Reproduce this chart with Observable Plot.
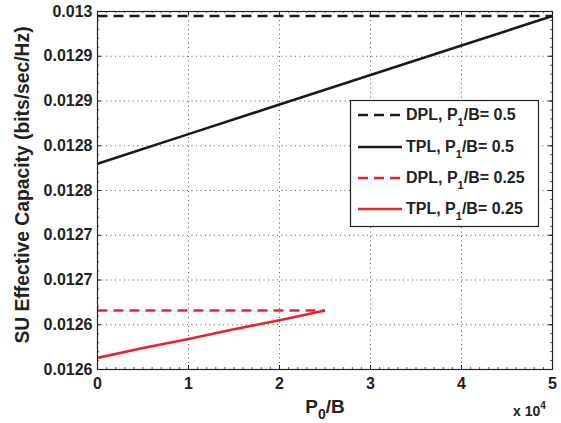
<!DOCTYPE html>
<html>
<head>
<meta charset="utf-8">
<script src="https://cdn.jsdelivr.net/npm/d3@7"></script>
<script src="https://cdn.jsdelivr.net/npm/@observablehq/plot@0.6"></script>
<style>
  html, body { margin: 0; padding: 0; background: #fff; }
  #chart { width: 561px; height: 423px; }
  svg { font-family: "Liberation Sans", Arial, sans-serif; font-weight: bold; }
</style>
</head>
<body>
<div id="chart"></div>
<script>
// ---- data ----
const xTicks = [0, 10000, 20000, 30000, 40000, 50000];
const xTickLabels = ["0", "1", "2", "3", "4", "5"];
const yTicks = [0.0126, 0.01265, 0.0127, 0.01275, 0.0128, 0.01285, 0.0129, 0.01295, 0.0130];
const yTickLabels = ["0.0126", "0.0126", "0.0127", "0.0127", "0.0128", "0.0128", "0.0129", "0.0129", "0.013"];

const dplHighX = [0, 50000];
const dplHighY = [0.012995, 0.012995];
const tplHighX = [0, 10000, 20000, 30000, 40000, 50000];
const tplHighY = [0.01283, 0.012863, 0.012896, 0.012929, 0.012962, 0.012995];
const dplLowX = [0, 25000];
const dplLowY = [0.012666, 0.012666];
const tplLowX = [0, 5000, 10000, 15000, 20000, 25000];
const tplLowY = [0.012613, 0.012624, 0.012634, 0.012645, 0.012655, 0.012666];

const seriesNames = ["DPL, P1/B= 0.5", "TPL, P1/B= 0.5", "DPL, P1/B= 0.25", "TPL, P1/B= 0.25"];
const legendParts = [["DPL, P", "1", "/B= 0.5"], ["TPL, P", "1", "/B= 0.5"], ["DPL, P", "1", "/B= 0.25"], ["TPL, P", "1", "/B= 0.25"]];

const black = "#1a1a1a", red = "#e8262a";
const styles = [
  {stroke: black, dash: "10,6"},
  {stroke: black, dash: null},
  {stroke: red, dash: "10,6"},
  {stroke: red, dash: null}
];
const toRows = (xs, ys) => xs.map((x, i) => ({x, y: ys[i]}));
const series = [toRows(dplHighX, dplHighY), toRows(tplHighX, tplHighY), toRows(dplLowX, dplLowY), toRows(tplLowX, tplLowY)];

const xMinor = d3.range(0, 50001, 1000);
const yMinor = d3.range(0, 41).map(i => 0.0126 + i * 0.00001);

const W = 561, H = 423, mL = 97, mR = 9, mT = 11, mB = 54;
const fw = W - mL - mR, fh = H - mT - mB;

const plot = Plot.plot({
  width: W, height: H,
  marginLeft: mL, marginRight: mR, marginTop: mT, marginBottom: mB,
  style: {fontFamily: '"Liberation Sans", Arial, sans-serif', fontSize: "16px", fontWeight: "bold", color: "#222", background: "white"},
  x: {domain: [0, 50000]},
  y: {domain: [0.0126, 0.0130]},
  marks: [
    Plot.gridX(xTicks, {stroke: "#333", strokeOpacity: 0.8, strokeDasharray: "1,3.5"}),
    Plot.gridY(yTicks, {stroke: "#333", strokeOpacity: 0.8, strokeDasharray: "1,3.5"}),
    // minor ticks
    Plot.tickX(xMinor, {x: d => d, insetTop: fh - 2, stroke: "#333", strokeWidth: 0.8}),
    Plot.tickX(xMinor, {x: d => d, insetBottom: fh - 2, stroke: "#333", strokeWidth: 0.8}),
    Plot.tickY(yMinor, {y: d => d, insetRight: fw - 2, stroke: "#333", strokeWidth: 0.8}),
    Plot.tickY(yMinor, {y: d => d, insetLeft: fw - 2, stroke: "#333", strokeWidth: 0.8}),
    // major ticks
    Plot.tickX(xTicks, {x: d => d, insetTop: fh - 4, stroke: "#222"}),
    Plot.tickX(xTicks, {x: d => d, insetBottom: fh - 4, stroke: "#222"}),
    Plot.tickY(yTicks, {y: d => d, insetRight: fw - 4, stroke: "#222"}),
    Plot.tickY(yTicks, {y: d => d, insetLeft: fw - 4, stroke: "#222"}),
    Plot.axisX(xTicks, {tickSize: 0, tickPadding: 8, tickFormat: (d, i) => xTickLabels[i], label: null, fontSize: 16, fontWeight: "bold"}),
    Plot.axisY(yTicks, {tickSize: 0, tickPadding: 5, tickFormat: (d, i) => yTickLabels[i], label: null, fontSize: 16, fontWeight: "bold"}),
    ...series.map((rows, i) => Plot.line(rows, {x: "x", y: "y", stroke: styles[i].stroke, strokeWidth: 2.6, strokeDasharray: styles[i].dash, strokeLinecap: "butt"})),
    Plot.frame({stroke: "#222", strokeWidth: 1.2})
  ]
});
document.getElementById("chart").appendChild(plot);

const svg = d3.select(plot);
// y label
svg.append("text")
  .attr("transform", `translate(29,185) rotate(-90)`)
  .attr("text-anchor", "middle")
  .attr("font-size", 19.3).attr("font-weight", "bold").attr("fill", "#222")
  .text("SU Effective Capacity (bits/sec/Hz)");
// x label
const xl = svg.append("text")
  .attr("x", 325).attr("y", 413)
  .attr("text-anchor", "middle")
  .attr("font-size", 19).attr("font-weight", "bold").attr("fill", "#222");
xl.append("tspan").text("P");
xl.append("tspan").attr("dy", 6).attr("font-size", 14).text("0");
xl.append("tspan").attr("dy", -6).text("/B");
// exponent
const ex = svg.append("text")
  .attr("x", 513).attr("y", 416)
  .attr("text-anchor", "start")
  .attr("font-size", 14).attr("font-weight", "bold").attr("fill", "#222");
ex.append("tspan").text("x 10");
ex.append("tspan").attr("dy", -7).attr("font-size", 10).text("4");

// legend
const lg = svg.append("g");
lg.append("rect").attr("x", 350.5).attr("y", 100.5).attr("width", 188).attr("height", 126)
  .attr("fill", "white").attr("stroke", "#222").attr("stroke-width", 1.2);
const ly = [115, 147, 178, 209];
legendParts.forEach((p, i) => {
  const yy = ly[i];
  lg.append("line").attr("x1", 358).attr("x2", 402).attr("y1", yy).attr("y2", yy)
    .attr("stroke", styles[i].stroke).attr("stroke-width", 2.6)
    .attr("stroke-dasharray", styles[i].dash);
  const t = lg.append("text").attr("x", 406).attr("y", yy + 5)
    .attr("text-anchor", "start")
    .attr("font-size", 16).attr("font-weight", "bold").attr("fill", "#222");
  t.append("tspan").text(p[0]);
  t.append("tspan").attr("dy", 6).attr("font-size", 11).text(p[1]);
  t.append("tspan").attr("dy", -6).text(p[2]);
});
</script>
</body>
</html>
